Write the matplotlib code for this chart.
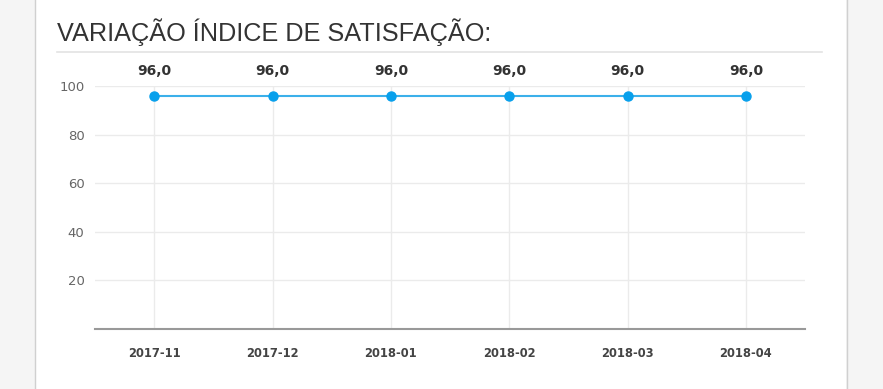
import matplotlib
matplotlib.use("Agg")
import matplotlib.pyplot as plt
from matplotlib.patches import Rectangle
from matplotlib.lines import Line2D

categories = ["2017-11", "2017-12", "2018-01", "2018-02", "2018-03", "2018-04"]
values = [96.0, 96.0, 96.0, 96.0, 96.0, 96.0]
yticks = [20, 40, 60, 80, 100]
title = "VARIAÇÃO ÍNDICE DE SATISFAÇÃO:"

W, H = 883, 389
fig = plt.figure(figsize=(W / 100, H / 100), dpi=100)
fig.patch.set_facecolor("#f5f5f5")

# white panel
fig.patches.append(Rectangle((35 / W, 0), (846 - 35) / W, 1, transform=fig.transFigure,
                             facecolor="white", edgecolor="none", zorder=-1))
fig.lines.append(Line2D([34.5 / W, 34.5 / W], [0, 1], transform=fig.transFigure, color="#d0d0d0", lw=1))
fig.lines.append(Line2D([846.5 / W, 846.5 / W], [0, 1], transform=fig.transFigure, color="#d0d0d0", lw=1))
# separator under title
fig.lines.append(Line2D([57 / W, 822 / W], [1 - 52 / H, 1 - 52 / H], transform=fig.transFigure,
                        color="#e3e3e3", lw=1.2))
fig.text(57 / W, 1 - 32 / H, title, fontsize=18.2, color="#333333", va="center", ha="left",
         family="Liberation Sans")

ax = fig.add_axes([95 / W, 60 / H, (805 - 95) / W, (329 - 86) / H])
ax.set_zorder(2)
ax.set_facecolor("white")
x = list(range(len(categories)))
ax.plot(x, values, color="#3bb0ea", lw=1.5, marker="o", markersize=6.5,
        markerfacecolor="#08a0ec", markeredgecolor="#08a0ec", zorder=3, clip_on=False)
for xi, v in zip(x, values):
    ax.annotate(f"{v:.1f}".replace(".", ","), (xi, 100), xytext=(0, 11), textcoords="offset points",
                ha="center", va="center", fontsize=10, fontweight="bold", color="#333333",
                family="DejaVu Sans")

ax.set_xlim(-0.5, len(categories) - 0.5)
ax.set_ylim(0, 100)
ax.set_xticks(x)
ax.set_xticklabels(categories, fontsize=8.3, fontweight="bold", color="#444444", family="DejaVu Sans")
ax.set_yticks(yticks)
ax.set_yticklabels([str(t) for t in yticks], fontsize=9.5, color="#666666", family="DejaVu Sans")
ax.tick_params(axis="both", length=0)
ax.tick_params(axis="x", pad=13)
ax.tick_params(axis="y", pad=7.5)
ax.grid(True, color="#ebebeb", lw=1)
ax.set_axisbelow(True)
for s in ["top", "right", "left"]:
    ax.spines[s].set_visible(False)
ax.spines["bottom"].set_color("#999999")
ax.spines["bottom"].set_linewidth(1.5)

fig.savefig("out.png", dpi=100, facecolor=fig.get_facecolor())
